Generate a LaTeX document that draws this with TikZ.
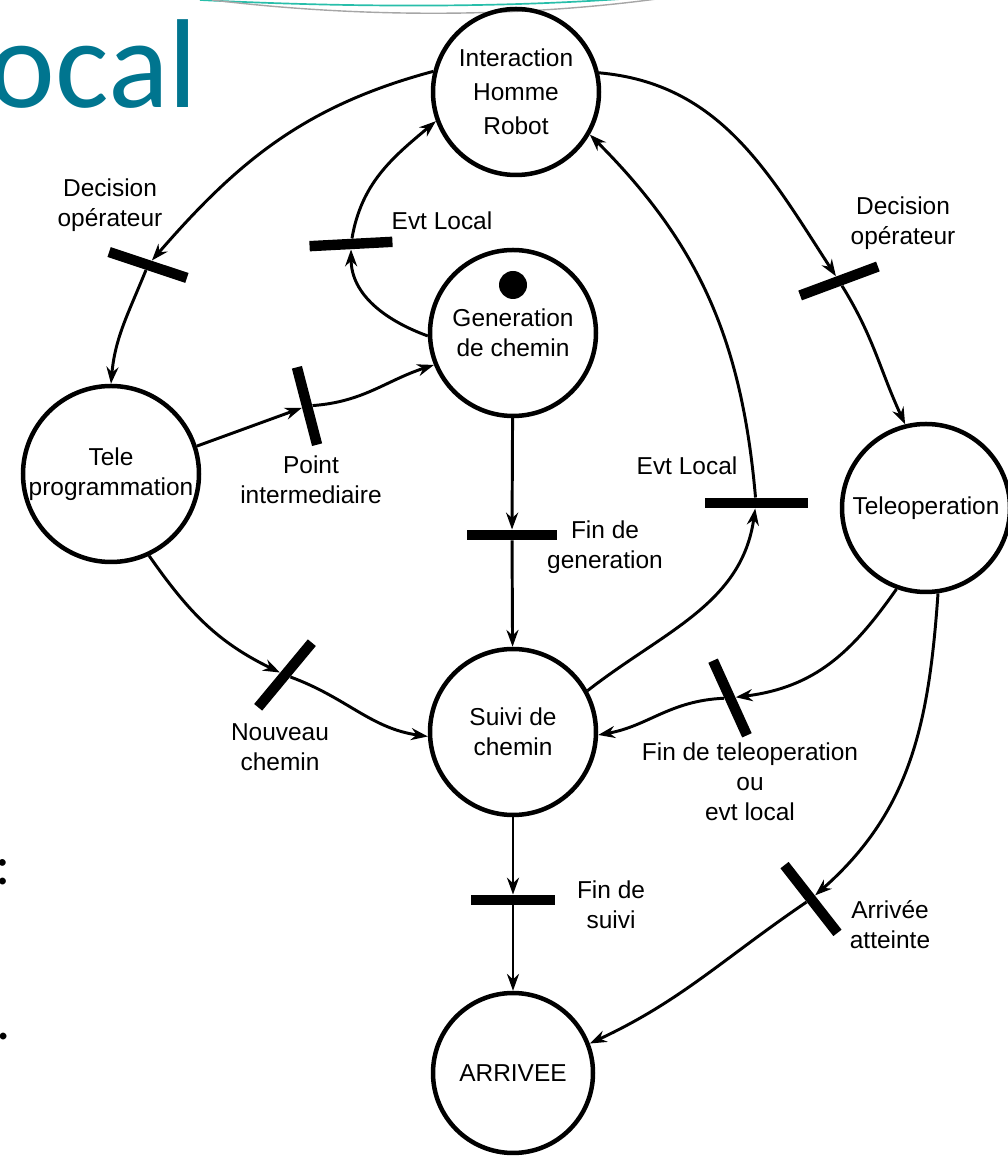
\documentclass[tikz,border=0pt]{standalone}
\usepackage{fontspec}
\setmainfont{Liberation Sans}
\newfontfamily\slidefont{Carlito}
\usetikzlibrary{arrows.meta}
\definecolor{PNteal}{RGB}{0,117,143}
\definecolor{PNswoosh}{RGB}{40,190,170}
\newcommand{\pnfont}{\fontsize{17.4}{21.3}\selectfont}
\tikzset{
  pn place/.style={
    circle,
    draw=black,
    line width=3.2pt,
    minimum size=4.15cm,
    inner sep=0pt,
    align=center,
    font=\pnfont
  },
  pn token/.style={circle,fill=black,minimum size=0.7cm,inner sep=0pt},
  pn bar/.style={
    rectangle,
    fill=black,
    minimum width=2.1cm,
    minimum height=0.26cm,
    inner sep=0pt
  },
  pn arc/.style={-{Stealth[length=4.2mm,width=3mm]},line width=2.1pt},
  pn label/.style={align=center,font=\pnfont,inner sep=0pt}
}

\begin{document}
\begin{tikzpicture}[x=1cm,y=1cm]
  \useasboundingbox (0,0) rectangle (25.2,29);

  % what is left of the slide behind the net
  \draw[PNswoosh,line width=1.2pt] (5.0,29.0) .. controls (9,28.8) and (13,28.8) .. (16.5,29.1);
  \draw[black!35,line width=1pt] (5.3,29.0) .. controls (9,28.55) and (13,28.55) .. (16.6,29.05);
  \node[font=\slidefont\fontsize{90}{92}\selectfont,text=PNteal,anchor=base east,inner sep=0pt]
    (slide-title) at (4.95,26.3) {ocal};
  \node[font=\slidefont\fontsize{40}{42}\selectfont,anchor=base west,inner sep=0pt]
    (slide-colon) at (-0.125,6.875) {:};
  \node[font=\slidefont\fontsize{40}{42}\selectfont,anchor=base west,inner sep=0pt]
    (slide-dot) at (-0.09,3.0) {.};

  % places
  \node[pn place,font=\fontsize{17.4}{24}\selectfont] (ihr) at (12.9,26.7) {Interaction\\Homme\\Robot};
  \node[pn place] (gen) at (12.825,20.675) {Generation\\de chemin};
  \node[pn token] (token) at (12.825,21.875) {};
  \node[pn place,minimum size=4.4cm] (tele) at (2.775,17.15) {Tele\\programmation};
  \node[pn place,minimum size=4.2cm] (teleop) at (23.15,16.3) {Teleoperation};
  \node[pn place] (suivi) at (12.825,10.7) {Suivi de\\chemin};
  \node[pn place,minimum size=4.0cm] (arrivee) at (12.825,2.175) {ARRIVEE};

  % transitions
  \node[pn bar,minimum width=2.05cm,rotate=-18.4] (t-decl) at (3.7,22.375) {};
  \node[pn bar,minimum width=2.075cm,rotate=3] (t-evt1) at (8.775,22.9) {};
  \node[pn bar,minimum width=2.075cm,rotate=20.4] (t-decr) at (20.975,21.975) {};
  \node[pn bar,minimum width=2.0cm,rotate=-75.4] (t-point) at (7.675,18.85) {};
  \node[pn bar,minimum width=2.25cm] (t-fingen) at (12.8,15.625) {};
  \node[pn bar,minimum width=2.575cm] (t-evt2) at (18.9,16.425) {};
  \node[pn bar,minimum width=2.1cm,rotate=50.3] (t-nouv) at (7.125,12.125) {};
  \node[pn bar,minimum width=2.05cm,rotate=-65.6] (t-finteleop) at (18.25,11.55) {};
  \node[pn bar,minimum width=2.1cm] (t-finsuivi) at (12.825,6.5) {};
  \node[pn bar,minimum width=2.15cm,rotate=-52] (t-arr) at (20.275,6.525) {};

  % labels of the transitions
  \node[pn label] (l-decl) at (2.75,23.875) {Decision\\opérateur};
  \node[pn label] (l-evt1) at (11.05,23.475) {Evt Local};
  \node[pn label] (l-decr) at (22.575,23.425) {Decision\\opérateur};
  \node[pn label] (l-point) at (7.775,17.0) {Point\\intermediaire};
  \node[pn label] (l-fingen) at (15.125,15.325) {Fin de\\generation};
  \node[pn label] (l-evt2) at (17.175,17.35) {Evt Local};
  \node[pn label] (l-nouv) at (7.0,10.325) {Nouveau\\chemin};
  \node[pn label] (l-finteleop) at (18.75,9.45) {Fin de teleoperation\\ou\\evt local};
  \node[pn label] (l-finsuivi) at (15.275,6.375) {Fin de\\suivi};
  \node[pn label] (l-arr) at (22.25,5.875) {Arrivée\\atteinte};

  % arcs
  \draw[pn arc] (ihr.166) to[out=195,in=50] (t-decl);
  \draw[pn arc] (t-decl) to[out=250,in=85] (tele.90);
  \draw[pn arc] (gen.182) to[out=160,in=270] (t-evt1);
  \draw[pn arc] (t-evt1) to[out=80,in=220] (ihr.200);
  \draw[pn arc] (ihr.13) to[out=-5,in=122] (t-decr);
  \draw[pn arc] (t-decr) to[out=-60,in=115] (teleop.104);
  \draw[pn arc] (tele.18) -- (t-point);
  \draw[pn arc] (t-point) to[out=20,in=198] (gen.202);
  \draw[pn arc] (gen) -- (t-fingen);
  \draw[pn arc] (t-fingen) -- (suivi);
  \draw[pn arc] (suivi.29) to[out=38,in=262] (t-evt2);
  \draw[pn arc] (t-evt2) to[out=95,in=-45] (ihr.-30);
  \draw[pn arc] (tele.-65) to[out=-55,in=148] (t-nouv);
  \draw[pn arc] (t-nouv) to[out=-28,in=172] (suivi.183);
  \draw[pn arc] (teleop.250) to[out=235,in=18] (t-finteleop);
  \draw[pn arc] (t-finteleop) to[out=198,in=10] (suivi.-2);
  \draw[pn arc] (suivi) -- (t-finsuivi);
  \draw[pn arc] (t-finsuivi) -- (arrivee);
  \draw[pn arc] (teleop.-82) to[out=-94,in=44] (t-arr);
  \draw[pn arc] (t-arr) to[out=218,in=25] (arrivee.21);
\end{tikzpicture}
\end{document}
